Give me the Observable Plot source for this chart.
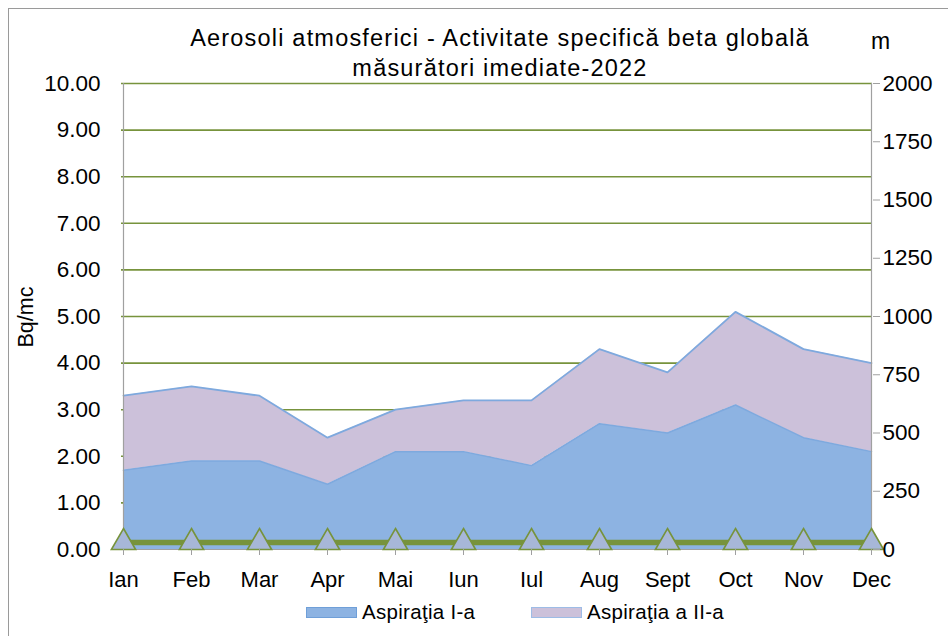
<!DOCTYPE html>
<html><head><meta charset="utf-8">
<script src="https://cdn.jsdelivr.net/npm/d3@7"></script>
<script src="https://cdn.jsdelivr.net/npm/@observablehq/plot@0.6"></script>
<style>
body{margin:0;background:#fff;font-family:"Liberation Sans",Arial,sans-serif;color:#000;}
#wrap{position:relative;width:948px;height:636px;overflow:hidden;background:#fff;}
#frame{position:absolute;left:8px;top:8px;width:960px;height:700px;border-left:1.5px solid #9a9a9a;border-top:1.5px solid #9a9a9a;}
#chart{position:absolute;left:0;top:0;}
#title{position:absolute;left:100px;width:800px;top:23px;text-align:center;font-size:23.5px;line-height:30px;letter-spacing:1.2px;}
#unitM{position:absolute;left:871px;top:28px;font-size:23px;}
#ylab{position:absolute;left:26px;top:317px;font-size:21.5px;transform:translate(-50%,-50%) rotate(-90deg);white-space:nowrap;}
.legitem{position:absolute;top:600px;font-size:20.5px;display:flex;align-items:center;white-space:nowrap;letter-spacing:0.3px;}
.sw{display:inline-block;width:49px;height:9px;margin-right:5px;}
</style></head><body>
<div id="wrap">
 <div id="frame"></div>
 <div id="chart"></div>
 <div id="title">Aerosoli atmosferici - Activitate specifică beta globală<br>măsurători imediate-2022</div>
 <div id="unitM">m</div>
 <div id="ylab">Bq/mc</div>
</div>
<script>
const months = ["Ian","Feb","Mar","Apr","Mai","Iun","Iul","Aug","Sept","Oct","Nov","Dec"];
const seriesNames = ["Aspiraţia I-a","Aspiraţia a II-a"];
const aspiratia1 = [1.7,1.9,1.9,1.4,2.1,2.1,1.8,2.7,2.5,3.1,2.4,2.1];
const aspiratia2 = [1.6,1.6,1.4,1.0,0.9,1.1,1.4,1.6,1.3,2.0,1.9,1.9];
const altitudeM = [30,30,30,30,30,30,30,30,30,30,30,30];
const leftTicks = [0,1,2,3,4,5,6,7,8,9,10];
const rightTicks = [0,250,500,750,1000,1250,1500,1750,2000];
const colors = {fill1:"#8db3e2", fill2:"#ccc1da", edge:"#7ea9de", green:"#77933c", tri:"#a7b7d8", axis:"#a0a0a0"};

const M_PER_UNIT = 200; // right axis: 2000 m == 10 Bq/mc
const rows = months.map((m,i)=>({month:m, a1:aspiratia1[i], a2:aspiratia2[i], total:aspiratia1[i]+aspiratia2[i], alt:altitudeM[i]/M_PER_UNIT}));

const plot = Plot.plot({
  width:948, height:636,
  marginLeft:121, marginRight:76, marginTop:83, marginBottom:87,
  style:{fontFamily:"'Liberation Sans', Arial, sans-serif", background:"transparent", color:"#000"},
  x:{type:"point", domain:months, padding:0, label:null},
  y:{domain:[0,10], label:null},
  marks:[
    Plot.ruleY(leftTicks.filter(d=>d>0), {stroke:colors.green, strokeWidth:1.6}),
    Plot.areaY(rows, {x:"month", y1:0, y2:"a1", fill:colors.fill1, curve:"linear"}),
    Plot.areaY(rows, {x:"month", y1:"a1", y2:"total", fill:colors.fill2, curve:"linear"}),
    Plot.lineY(rows, {x:"month", y:"a1", stroke:colors.edge, strokeWidth:1.5}),
    Plot.lineY(rows, {x:"month", y:"total", stroke:colors.edge, strokeWidth:1.8}),
    Plot.ruleX([months[0]], {stroke:colors.axis, strokeWidth:1.2}),
    Plot.ruleX([months[months.length-1]], {stroke:colors.axis, strokeWidth:1.2}),
    Plot.ruleY([0], {stroke:colors.axis, strokeWidth:1.2}),
    Plot.lineY(rows, {x:"month", y:"alt", stroke:colors.green, strokeWidth:5.5}),
    Plot.dot(rows, {x:"month", y:"alt", symbol:"triangle", r:9, fill:colors.tri, stroke:colors.green, strokeWidth:1.6}),
    Plot.axisY(leftTicks, {anchor:"left", tickSize:0, tickPadding:21, fontSize:22.5, tickFormat:d=>d.toFixed(2), label:null}),
    Plot.axisY(rightTicks.map(d=>d/M_PER_UNIT), {anchor:"right", tickSize:7, tickPadding:3, stroke:colors.axis, fontSize:22.5, tickFormat:d=>String(Math.round(d*M_PER_UNIT)), label:null}),
    Plot.axisX(months, {anchor:"bottom", tickSize:6, tickPadding:16, stroke:colors.axis, fontSize:22, letterSpacing:0.6, label:null})
  ]
});
document.getElementById("chart").appendChild(plot);

const wrap = document.getElementById("wrap");
const legendItems = [[seriesNames[0], colors.fill1, "#6f9fd8", 306],[seriesNames[1], colors.fill2, "#9dbce6", 531]];
legendItems.forEach(([name,fill,border,left])=>{
  const item = document.createElement("div");
  item.className="legitem"; item.style.left=left+"px";
  const sw = document.createElement("span"); sw.className="sw";
  sw.style.background=fill; sw.style.border="1.5px solid "+border;
  item.appendChild(sw);
  item.appendChild(document.createTextNode(name));
  wrap.appendChild(item);
});
</script>
</body></html>
